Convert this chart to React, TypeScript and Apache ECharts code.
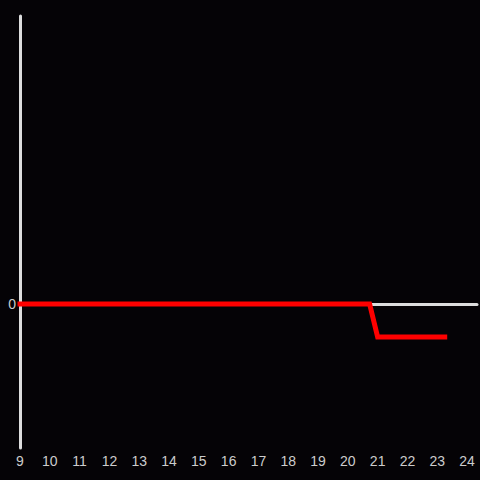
import React, { useEffect, useRef } from "react";
import * as echarts from "echarts";

const xTicks = [9, 10, 11, 12, 13, 14, 15, 16, 17, 18, 19, 20, 21, 22, 23, 24];
const seriesX = [9, 20.73, 21.0, 23.25];
const seriesY = [0, 0, -0.23, -0.23];

export default function App() {
  const ref = useRef<HTMLDivElement>(null);
  useEffect(() => {
    if (!ref.current) return;
    const chart = echarts.init(ref.current, null, { renderer: "svg" });
    const xMin = xTicks[0];
    const xMax = xTicks[xTicks.length - 1] + 1 / 3;
    const axisCommon = {
      type: "value" as const,
      min: xMin,
      max: xMax,
      interval: 1,
      splitLine: { show: false },
      axisTick: { show: false },
    };
    chart.setOption({
      animation: false,
      backgroundColor: "#050306",
      grid: { left: 20, right: 0, top: 16, bottom: 32, containLabel: false },
      xAxis: [
        {
          ...axisCommon,
          position: "bottom",
          axisLine: { show: false, onZero: false },
          axisLabel: {
            color: "#cccccc",
            fontSize: 14,
            fontFamily: "Liberation Sans, Arial, sans-serif",
            margin: 6,
            formatter: (v: number) => (xTicks.includes(v) ? String(v) : ""),
          },
        },
        {
          ...axisCommon,
          position: "bottom",
          axisLine: { show: true, onZero: true, lineStyle: { color: "#dddddd", width: 3 } },
          axisLabel: { show: false },
        },
      ],
      yAxis: {
        type: "value",
        min: -1,
        max: 2,
        interval: 1,
        splitLine: { show: false },
        axisTick: { show: false },
        axisLine: { show: true, onZero: false, lineStyle: { color: "#dddddd", width: 3 } },
        axisLabel: {
          color: "#cccccc",
          fontSize: 14,
          fontFamily: "Liberation Sans, Arial, sans-serif",
          margin: 4,
          formatter: (v: number) => (v === 0 ? "0" : ""),
        },
      },
      series: [
        {
          type: "line",
          xAxisIndex: 0,
          data: seriesX.map((x, i) => [x, seriesY[i]]),
          symbol: "none",
          lineStyle: { color: "#ff0000", width: 5, cap: "square", join: "miter" },
          z: 3,
        },
      ],
    });
    return () => chart.dispose();
  }, []);
  return <div ref={ref} style={{ width: 480, height: 480, position: "absolute", left: 0, top: 0 }} />;
}
